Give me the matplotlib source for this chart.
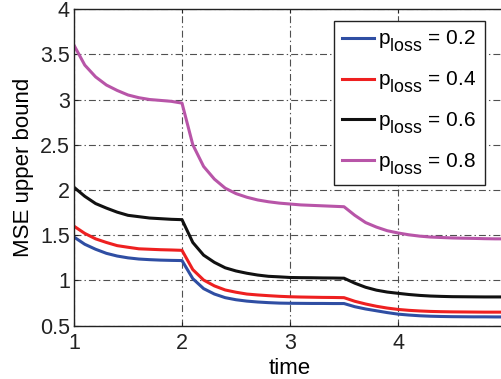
import numpy as np
import matplotlib
matplotlib.use('Agg')
matplotlib.rcParams['font.family'] = 'sans-serif'
matplotlib.rcParams['font.sans-serif'] = ['Liberation Sans']
matplotlib.rcParams['mathtext.fontset'] = 'custom'
matplotlib.rcParams['mathtext.rm'] = 'Liberation Sans'
matplotlib.rcParams['lines.scale_dashes'] = False
import matplotlib._mathtext as mt
mt.SHRINK_FACTOR = 0.85  # MATLAB-style subscripts are barely smaller
mt.FontConstantsBase.sub1 = 0.65  # and sit lower
import matplotlib.pyplot as plt

t = [1.0, 1.1, 1.2, 1.3, 1.4, 1.5, 1.6, 1.7, 1.8, 1.9,
     2.0, 2.1, 2.2, 2.3, 2.4, 2.5, 2.6, 2.7, 2.8, 2.9,
     3.0, 3.1, 3.2, 3.3, 3.4, 3.5, 3.6, 3.7, 3.8, 3.9,
     4.0, 4.1, 4.2, 4.3, 4.4, 4.5, 4.6, 4.7, 4.8, 4.9, 5.0]

mse_02 = [1.48, 1.40, 1.345, 1.30, 1.27, 1.25, 1.237, 1.23, 1.225, 1.222,
          1.22, 1.02, 0.91, 0.85, 0.81, 0.787, 0.772, 0.762, 0.755, 0.75,
          0.748, 0.747, 0.746, 0.746, 0.745, 0.745, 0.71, 0.685, 0.665, 0.645,
          0.628, 0.618, 0.61, 0.605, 0.602, 0.60, 0.599, 0.598, 0.598, 0.597, 0.597]

mse_04 = [1.60, 1.52, 1.46, 1.42, 1.385, 1.367, 1.35, 1.345, 1.34, 1.337,
          1.333, 1.12, 1.005, 0.94, 0.895, 0.87, 0.85, 0.84, 0.832, 0.825,
          0.82, 0.817, 0.815, 0.813, 0.812, 0.81, 0.77, 0.74, 0.715, 0.695,
          0.68, 0.67, 0.663, 0.658, 0.655, 0.653, 0.652, 0.651, 0.65, 0.65, 0.65]

mse_06 = [2.03, 1.93, 1.85, 1.80, 1.755, 1.72, 1.705, 1.69, 1.683, 1.676,
          1.672, 1.42, 1.28, 1.20, 1.14, 1.105, 1.08, 1.06, 1.046, 1.04,
          1.033, 1.031, 1.03, 1.028, 1.027, 1.025, 0.97, 0.925, 0.893, 0.872,
          0.858, 0.845, 0.835, 0.828, 0.824, 0.821, 0.82, 0.819, 0.818, 0.818, 0.818]

mse_08 = [3.60, 3.38, 3.25, 3.16, 3.10, 3.05, 3.02, 3.00, 2.99, 2.98,
          2.96, 2.50, 2.26, 2.12, 2.02, 1.96, 1.92, 1.89, 1.87, 1.855,
          1.845, 1.835, 1.83, 1.825, 1.82, 1.815, 1.72, 1.64, 1.59, 1.55,
          1.525, 1.505, 1.49, 1.48, 1.475, 1.47, 1.467, 1.465, 1.462, 1.46, 1.46]

series = [mse_02, mse_04, mse_06, mse_08]
labels = [r'$\mathrm{p}_{\mathrm{loss}}$ = 0.2', r'$\mathrm{p}_{\mathrm{loss}}$ = 0.4',
          r'$\mathrm{p}_{\mathrm{loss}}$ = 0.6', r'$\mathrm{p}_{\mathrm{loss}}$ = 0.8']
colors = ['#2f4ea3', '#ee2020', '#111111', '#b855a8']

xticks = [1, 2, 3, 4, 5]
xticklabels = ['1', '2', '3', '4', '5']
yticks = [0.5, 1, 1.5, 2, 2.5, 3, 3.5, 4]
yticklabels = ['0.5', '1', '1.5', '2', '2.5', '3', '3.5', '4']

fig = plt.figure(figsize=(5.02, 3.79), dpi=100)
ax = fig.add_axes([0.1474, 0.1406, 0.8606, 0.8356])

for y, lab, c in zip(series, labels, colors):
    ax.plot(t, y, color=c, lw=2.2, label=lab)

ax.set_xlim(1, 5)
ax.set_ylim(0.5, 4)
ax.set_xticks(xticks)
ax.set_xticklabels(xticklabels)
ax.set_yticks(yticks)
ax.set_yticklabels(yticklabels)
ax.tick_params(direction='in', length=3, width=0.8, labelsize=15.5,
               top=True, right=True, colors='#222222')
ax.tick_params(axis='x', pad=5)
ax.tick_params(axis='y', pad=3)
for s in ax.spines.values():
    s.set_linewidth(1.0)
    s.set_color('#222222')

ax.grid(True, color='#505050', lw=0.8, linestyle=(0, (5, 2.2, 1, 2.2)))

ax.set_xlabel('time', fontsize=16, labelpad=3)
ax.set_ylabel('MSE upper bound', fontsize=16, labelpad=4)

leg = ax.legend(loc='upper right', bbox_to_anchor=(0.951, 0.963), borderaxespad=0,
                fontsize=15, handlelength=1.55, handletextpad=0.2,
                labelspacing=0.75, borderpad=0.4, fancybox=False,
                framealpha=1, edgecolor='#222222')
leg.get_frame().set_linewidth(1.0)
for line in leg.get_lines():
    line.set_linewidth(2.2)

plt.savefig('out.png', dpi=100)
